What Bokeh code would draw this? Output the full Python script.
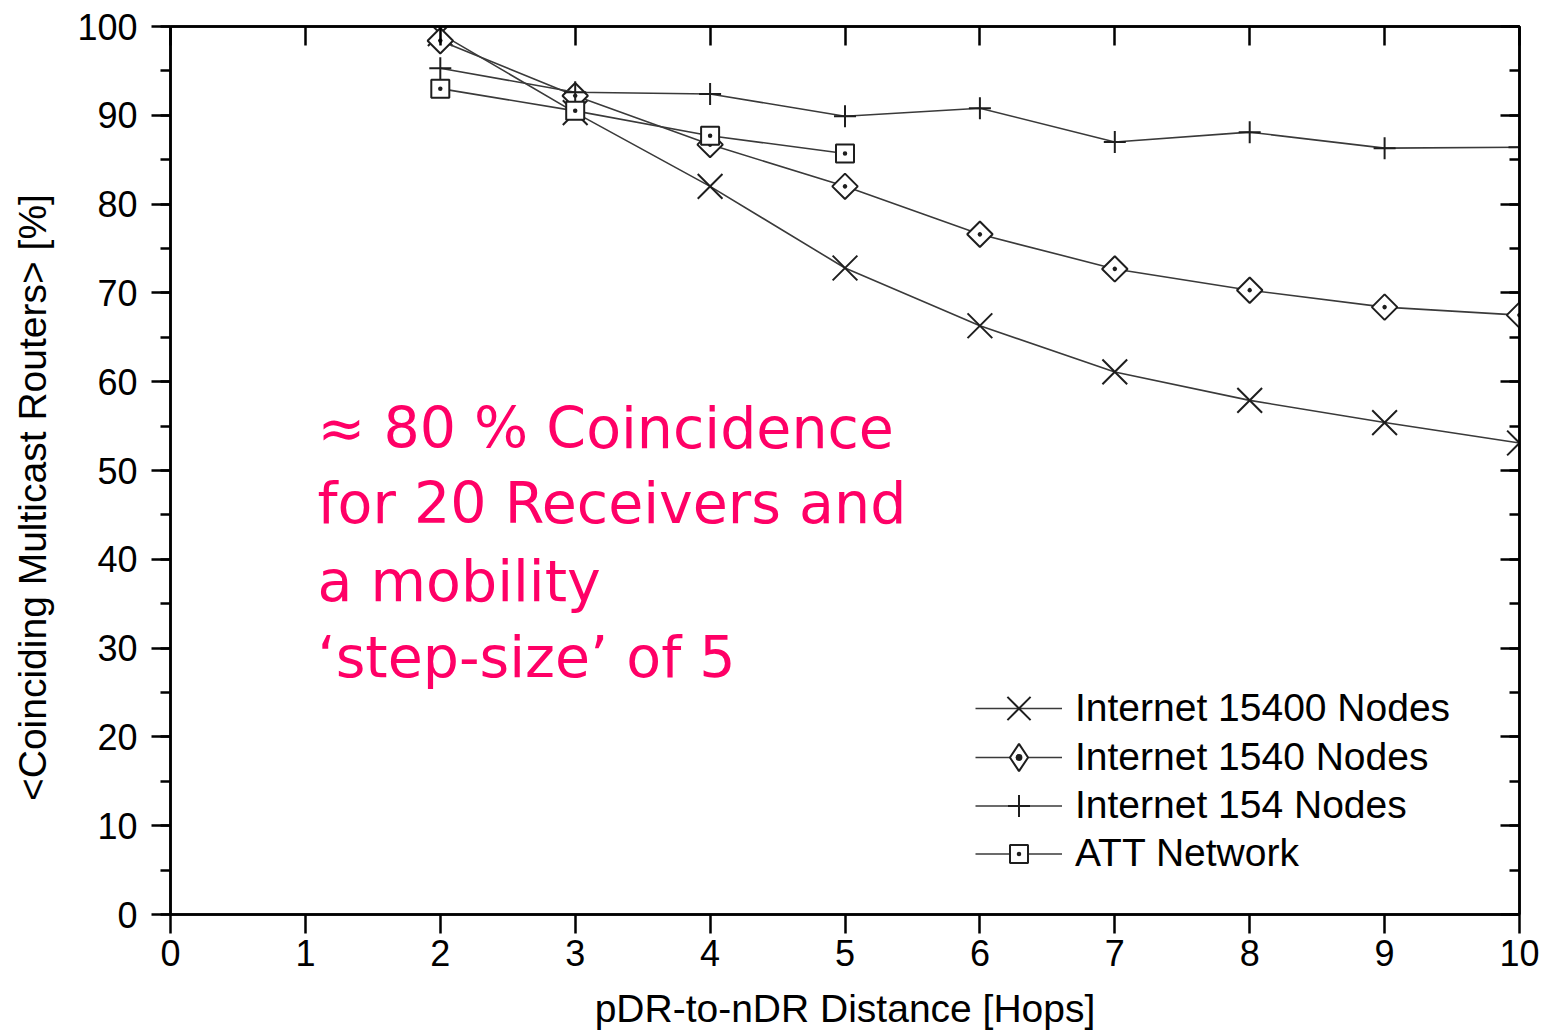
import math
from bokeh.plotting import figure
from bokeh.models import (LinearAxis, Range1d, SingleIntervalTicker, Label,
                          Legend, LegendItem)
from bokeh.embed import file_html
from bokeh.resources import INLINE

# ---- data ----
hops = [2, 3, 4, 5, 6, 7, 8, 9, 10]
inet_15400 = [99.2, 90.3, 82.0, 72.8, 66.3, 61.1, 57.9, 55.4, 53.1]
inet_1540 = [98.4, 92.2, 86.7, 82.0, 76.6, 72.7, 70.3, 68.4, 67.5]
inet_154 = [95.3, 92.6, 92.4, 89.9, 90.8, 87.0, 88.1, 86.3, 86.4]
att_hops = [2, 3, 4, 5]
att_net = [93.0, 90.5, 87.7, 85.7]

series_names = ["Internet 15400 Nodes", "Internet 1540 Nodes",
                "Internet 154 Nodes", "ATT Network"]
x_label = "pDR-to-nDR Distance [Hops]"
y_label = "<Coinciding Multicast Routers> [%]"
note_lines = ["\u2248 80 % Coincidence", "for 20 Receivers and",
              "a mobility", "\u2018step-size\u2019 of 5"]
note_y = [54.8, 46.3, 37.55, 29.0]

FONT = "Liberation Sans"

p = figure(width=1545, height=1033, output_backend="svg", toolbar_location=None,
           x_range=Range1d(0, 10), y_range=Range1d(0, 100),
           min_border_left=170, min_border_right=26, min_border_top=26,
           min_border_bottom=119, x_axis_location=None, y_axis_location=None)
p.grid.visible = False
p.outline_line_color = "black"
p.outline_line_width = 2.5
p.background_fill_color = "white"
p.border_fill_color = "white"

xt = SingleIntervalTicker(interval=1, num_minor_ticks=0)
yt = SingleIntervalTicker(interval=10, num_minor_ticks=2)


def style_axis(ax, labels=True, outward=True, minor=True):
    ax.axis_line_color = "black"
    ax.axis_line_width = 2.5
    ax.major_tick_line_color = "black"
    ax.major_tick_line_width = 2.5
    ax.minor_tick_line_width = 2.5
    if outward:
        ax.major_tick_out = 19
        ax.major_tick_in = 0
        ax.minor_tick_out = 10
        ax.minor_tick_in = 0
    else:
        ax.major_tick_out = 0
        ax.major_tick_in = 19
        ax.minor_tick_out = 0
        ax.minor_tick_in = 10
    ax.minor_tick_line_color = "black" if minor else None
    if labels:
        ax.major_label_text_font = FONT
        ax.major_label_text_font_size = "36px"
        ax.major_label_text_color = "black"
        ax.axis_label_text_font = FONT
        ax.axis_label_text_font_size = "39px"
        ax.axis_label_text_font_style = "normal"
        ax.axis_label_text_color = "black"
    else:
        ax.major_label_text_font_size = "1px"
        ax.major_label_text_color = None
        ax.major_label_standoff = 0


bottom = LinearAxis(ticker=xt, axis_label=x_label)
style_axis(bottom, minor=False)
bottom.major_label_standoff = 6
bottom.axis_label_standoff = 18
p.add_layout(bottom, "below")

# trailing no-break spaces nudge the centred title toward the bottom
left = LinearAxis(ticker=yt, axis_label=y_label + "\u00a0" * 5)
style_axis(left)
left.major_label_standoff = 14
left.axis_label_standoff = 20
p.add_layout(left, "left")

top = LinearAxis(ticker=xt)
style_axis(top, labels=False, outward=False, minor=False)
p.add_layout(top, "above")

right = LinearAxis(ticker=yt)
style_axis(right, labels=False, outward=False)
p.add_layout(right, "right")

LINE = "#3a3a3a"
MK = "#1e1e1e"

# marker, size, angle, legend marker, legend key height (sets key marker size)
specs = [
    (hops, inet_15400, dict(marker="x", size=35, angle=0, legend="x", key_h=82)),
    (hops, inet_1540, dict(marker="square_dot", size=18, angle=math.pi / 4,
                           legend="diamond_dot", key_h=68)),
    (hops, inet_154, dict(marker="cross", size=22, angle=0, legend="cross", key_h=55)),
    (att_hops, att_net, dict(marker="square_dot", size=18, angle=0,
                             legend="square_dot", key_h=45)),
]
# distance of each legend row centre above the bottom of the plot frame (px)
row_centre = [206, 157, 109, 61]

for (xs, ys, m), name, rc in zip(specs, series_names, row_centre):
    ln = p.line(xs, ys, line_color=LINE, line_width=1.6)
    sc = p.scatter(xs, ys, marker=m["marker"], size=m["size"], angle=m["angle"],
                   line_color=MK, line_width=2, fill_color="white")
    if m["legend"] != m["marker"]:
        # legends ignore marker angle: use an equivalent (hidden) marker for the key
        lg = p.scatter(xs, ys, marker=m["legend"], size=m["size"],
                       line_color=MK, line_width=2, fill_color="white",
                       visible=False)
        rends = [ln, lg]
    else:
        rends = [ln, sc]
    kh = m["key_h"]
    leg = Legend(items=[LegendItem(label=name, renderers=rends)],
                 location=(805, rc - kh / 2))
    leg.border_line_color = None
    leg.background_fill_alpha = 0
    leg.inactive_fill_alpha = 0
    leg.padding = 0
    leg.margin = 0
    leg.spacing = 0
    leg.glyph_width = 87
    leg.glyph_height = kh
    leg.label_height = 40
    leg.label_standoff = 13
    leg.label_text_font = FONT
    leg.label_text_font_size = "39px"
    leg.label_text_color = "black"
    leg.click_policy = "none"
    p.add_layout(leg, "center")

for txt, yy in zip(note_lines, note_y):
    p.add_layout(Label(x=1.09, y=yy, text=txt, text_font="DejaVu Sans",
                       text_font_size="57px", text_color="#FF0066",
                       text_baseline="alphabetic", text_align="left"))

open("out.html", "w").write(file_html(p, INLINE))
